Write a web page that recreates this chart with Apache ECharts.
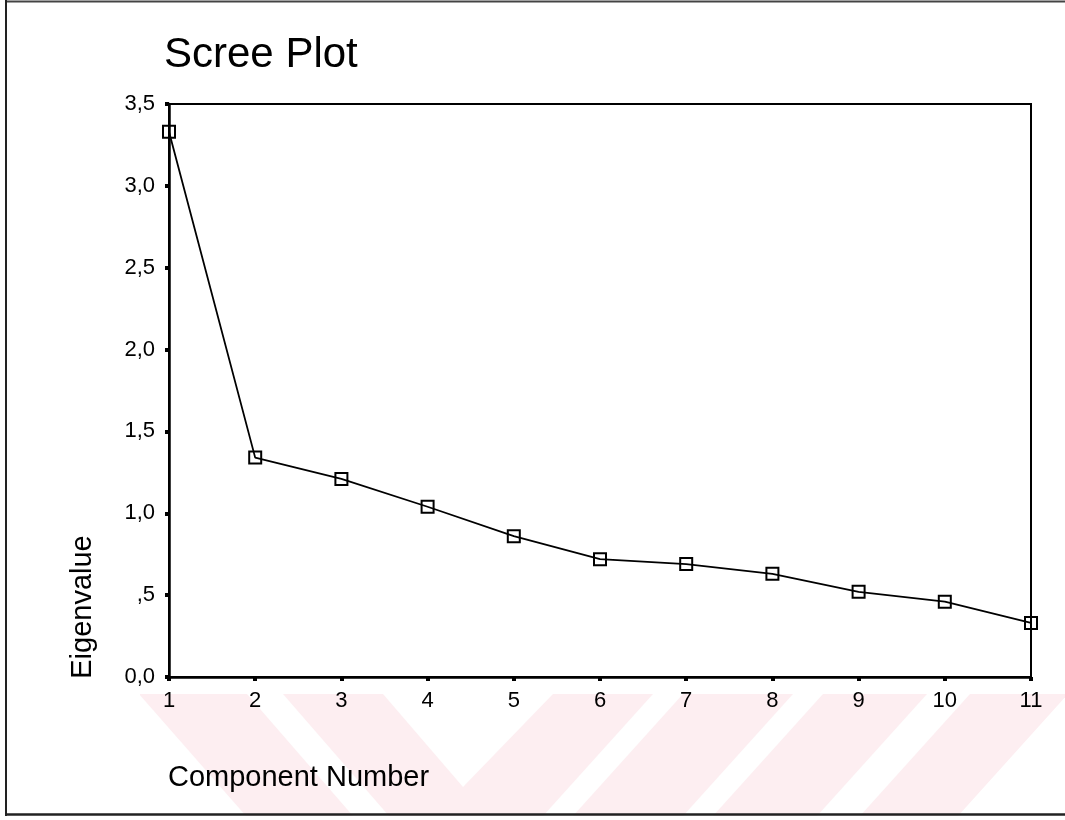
<!DOCTYPE html>
<html>
<head>
<meta charset="utf-8">
<script src="https://cdn.jsdelivr.net/npm/echarts@6/dist/echarts.min.js"></script>
<style>
  html, body { margin: 0; padding: 0; background: #ffffff; }
  #chart { width: 1065px; height: 820px; }
</style>
</head>
<body>
<div id="chart"></div>
<script>
// ---- data ----
var components = [1, 2, 3, 4, 5, 6, 7, 8, 9, 10, 11];
var eigenvalues = [3.33, 1.34, 1.21, 1.04, 0.86, 0.72, 0.69, 0.63, 0.52, 0.46, 0.33];
var yTickValues = [0, 0.5, 1.0, 1.5, 2.0, 2.5, 3.0, 3.5];
var yTickLabels = ["0,0", ",5", "1,0", "1,5", "2,0", "2,5", "3,0", "3,5"];
var xTickLabels = ["1", "2", "3", "4", "5", "6", "7", "8", "9", "10", "11"];
var titleText = "Scree Plot";
var xAxisTitle = "Component Number";
var yAxisTitle = "Eigenvalue";

var FONT = "'Liberation Sans', Arial, Helvetica, sans-serif";
var chart = echarts.init(document.getElementById('chart'), null, { renderer: 'canvas' });

var seriesData = components.map(function (c, i) { return [c, eigenvalues[i]]; });

// decorative pink watermark stripes (background)
var PINK = '#fdeef1';
var wm = [];
function poly(points, color) {
  wm.push({ type: 'polygon', z: -10, silent: true, shape: { points: points }, style: { fill: color } });
}
poly([[140, 694], [1068, 694], [1068, 816], [140, 816]], PINK);
poly([[139, 694], [246, 816], [139, 816]], '#ffffff');
poly([[247, 694], [283, 694], [389, 816], [353, 816]], '#ffffff');
poly([[383, 694], [553, 694], [463, 787]], '#ffffff');
poly([[653, 694], [683, 694], [573, 816], [543, 816]], '#ffffff');
poly([[793, 694], [823, 694], [713, 816], [683, 816]], '#ffffff');
poly([[927, 694], [970, 694], [860, 816], [817, 816]], '#ffffff');
poly([[1068, 694], [1069, 816], [958, 816]], '#ffffff');

// outer frame lines
var frame = [
  { type: 'line', z: 5, silent: true, shape: { x1: 5, y1: 1.5, x2: 1065, y2: 1.5 }, style: { stroke: '#444', lineWidth: 2 } },
  { type: 'line', z: 5, silent: true, shape: { x1: 6, y1: 0, x2: 6, y2: 816 }, style: { stroke: '#222', lineWidth: 2 } },
  { type: 'line', z: 5, silent: true, shape: { x1: 5, y1: 814.5, x2: 1065, y2: 814.5 }, style: { stroke: '#222', lineWidth: 2.5 } }
];

var option = {
  backgroundColor: '#ffffff',
  animation: false,
  title: [
    {
      text: titleText,
      left: 164,
      top: 34,
      padding: 0,
      textStyle: { fontFamily: FONT, fontSize: 42, fontWeight: 'normal', color: '#000' }
    },
    {
      text: xAxisTitle,
      left: 168,
      top: 763,
      padding: 0,
      textStyle: { fontFamily: FONT, fontSize: 29, fontWeight: 'normal', color: '#000' }
    }
  ],
  graphic: wm.concat(frame).concat([
    {
      type: 'text',
      silent: true,
      x: 83,
      y: 607,
      rotation: Math.PI / 2,
      style: {
        text: yAxisTitle,
        font: '29px ' + FONT,
        fill: '#000',
        textAlign: 'center',
        textVerticalAlign: 'middle'
      }
    }
  ]),
  grid: {
    left: 169,
    right: 34,
    top: 104,
    bottom: 143,
    show: true,
    borderColor: '#000',
    borderWidth: 2,
    backgroundColor: 'transparent'
  },
  xAxis: {
    type: 'value',
    min: 1,
    max: 11,
    interval: 1,
    axisLine: { show: true, onZero: false, lineStyle: { color: '#000', width: 2.5 } },
    axisTick: { show: true, length: 4, lineStyle: { color: '#000', width: 4 } },
    axisLabel: {
      margin: 13,
      fontFamily: FONT,
      fontSize: 22,
      color: '#000',
      formatter: function (v) { return xTickLabels[Math.round(v) - 1] || ''; }
    },
    splitLine: { show: false }
  },
  yAxis: {
    type: 'value',
    min: 0,
    max: 3.5,
    interval: 0.5,
    axisLine: { show: true, lineStyle: { color: '#000', width: 2.5 } },
    axisTick: { show: true, length: 4, lineStyle: { color: '#000', width: 4 } },
    axisLabel: {
      margin: 14,
      fontFamily: FONT,
      fontSize: 22,
      color: '#000',
      formatter: function (v) {
        var idx = yTickValues.indexOf(Math.round(v * 2) / 2);
        return idx >= 0 ? yTickLabels[idx] : '';
      }
    },
    splitLine: { show: false }
  },
  series: [
    {
      type: 'line',
      data: seriesData,
      clip: false,
      z: 10,
      symbol: 'rect',
      symbolSize: 12,
      showAllSymbol: true,
      lineStyle: { color: '#000', width: 1.8 },
      itemStyle: { color: 'rgba(255,255,255,0)', borderColor: '#000', borderWidth: 2 },
      emphasis: { disabled: true }
    }
  ]
};

chart.setOption(option);
</script>
</body>
</html>
